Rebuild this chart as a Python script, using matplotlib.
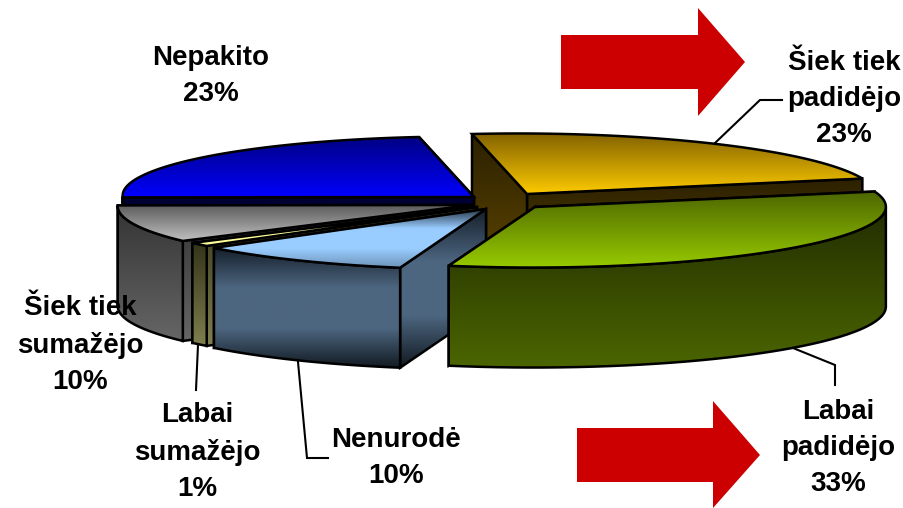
import numpy as np
import matplotlib
matplotlib.use("Agg")
import matplotlib.pyplot as plt
from matplotlib.colors import LinearSegmentedColormap
from matplotlib.patches import Polygon

categories = ["Šiek tiek\npadidėjo", "Labai\npadidėjo", "Nenurodė", "Labai\nsumažėjo", "Šiek tiek\nsumažėjo", "Nepakito"]
values = [23, 33, 10, 1, 10, 23]

# pixel layout of the old 3D pie (y goes down)
label_pos = [(844, 99), (838, 448), (396, 458), (197, 452), (80, 345), (211, 76)]
apex = [(527, 194), (535, 207), (486, 209), (477, 207), (472, 205), (474, 197)]
rx = [345, 348, 352, 355, 352, 347]
skew = [-55, -45, -47, -55, -40, -55]
depth = 100
side_by = -60.0
side_ay = -8.0

top_cols = [
    ["#806000", "#ffcc00"],
    ["#4c6600", "#99cc00"],
    ["#1f2d3d", "#99ccff", "#99ccff", "#6b8fb3"],
    ["#ffff99", "#ffff99"],
    ["#595959", "#c4c4c4"],
    ["#000080", "#0000ff"],
]
wall_cols = [
    ["#2b2000", "#664c00"],
    ["#222d00", "#4c6600"],
    ["#141e29", "#4d6680", "#4d6680", "#10181f"],
    ["#333319", "#808050"],
    ["#333333", "#666666"],
    ["#000033", "#000033"],
]
draw_order = [0, 5, 4, 3, 2, 1]

fig = plt.figure(figsize=(9.04, 5.08), dpi=100)
ax = fig.add_axes([0, 0, 1, 1])
ax.axis("off")

z = [1]


def grad_poly(pts, colors):
    # vertical gradient over the height of each face
    pts = np.array(pts, dtype=float)
    y0, y1 = pts[:, 1].min(), pts[:, 1].max()
    cmap = LinearSegmentedColormap.from_list("g", colors)
    poly = Polygon(pts, closed=True, fc="none", ec="black", lw=1.8, joinstyle="miter", zorder=z[0] + 1)
    ax.add_patch(poly)
    grad = np.linspace(0, 1, 256)[:, None]
    im = ax.imshow(grad, cmap=cmap, extent=(0, 904, y1 + 1, y0 - 1), aspect="auto", origin="upper", zorder=z[0],
                   interpolation="bilinear")
    im.set_clip_path(poly)
    z[0] += 2


def point(i, deg):
    t = np.radians(deg)
    return np.array([apex[i][0] + rx[i] * np.sin(t) + skew[i] * np.cos(t),
                     apex[i][1] + side_ay * np.sin(t) + side_by * np.cos(t)])


edges = np.concatenate([[0], np.cumsum(values)]) * 3.6

for i in draw_order:
    a0, a1 = edges[i], edges[i + 1]
    c = np.array(apex[i], dtype=float)
    down = np.array([0, depth])
    p0, p1 = point(i, a0), point(i, a1)
    # flat cut walls first, front arc after, top last
    grad_poly([c, p1, p1 + down, c + down], wall_cols[i])
    grad_poly([c, p0, p0 + down, c + down], wall_cols[i])
    lo, hi = max(a0, 98), min(a1, 278)
    if hi > lo:
        th = np.linspace(lo, hi, 40)
        arc = np.array([point(i, d) for d in th])
        grad_poly(np.vstack([arc, arc[::-1] + down]), wall_cols[i])
    th = np.linspace(a0, a1, 60)
    grad_poly(np.vstack([[c], [point(i, d) for d in th]]), top_cols[i])

# red arrows
ax.add_patch(Polygon([(561, 35), (698, 35), (698, 8), (745, 62), (698, 116), (698, 89), (561, 89)],
                     fc="#cc0000", ec="none", zorder=z[0]))
ax.add_patch(Polygon([(577, 428), (713, 428), (713, 401), (760, 455), (713, 508), (713, 482), (577, 482)],
                     fc="#cc0000", ec="none", zorder=z[0]))

# leader lines
leaders = [
    [(715, 143), (760, 100), (782, 100)],
    [(793, 348), (835, 365), (835, 385)],
    [(298, 362), (307, 458), (328, 458)],
    [(198, 345), (196, 390)],
]
for ln in leaders:
    xs, ys = zip(*ln)
    ax.plot(xs, ys, color="black", lw=1.5, zorder=z[0], solid_joinstyle="miter")

for cat, val, (x, y) in zip(categories, values, label_pos):
    ax.text(x, y, f"{cat}\n{val}%", ha="center", va="center", family="Liberation Sans", weight="bold",
            fontsize=20, linespacing=1.52, color="black", zorder=z[0] + 1)

ax.set_xlim(0, 904)
ax.set_ylim(508, 0)
fig.savefig("out.png", dpi=100, facecolor="white")
